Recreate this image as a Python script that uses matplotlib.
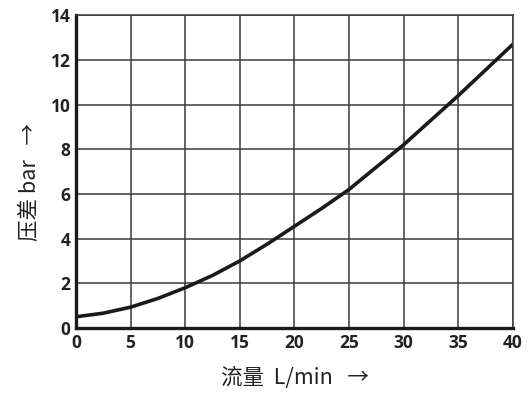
import numpy as np
import matplotlib.pyplot as plt

plt.rcParams['font.family'] = ['Noto Sans CJK SC', 'DejaVu Sans']

# flow (L/min) vs pressure drop (bar)
flow = [0, 2.5, 5, 7.5, 10, 12.5, 15, 17.5, 20, 22.5, 25, 27.5, 30, 32.5, 35, 37.5, 40]
dp = [0.5, 0.66, 0.93, 1.32, 1.8, 2.35, 3.0, 3.75, 4.55, 5.35, 6.2, 7.2, 8.2, 9.3, 10.4, 11.55, 12.7]

xticks = [0, 5, 10, 15, 20, 25, 30, 35, 40]
yticks = [0, 2, 4, 6, 8, 10, 12, 14]

fig = plt.figure(figsize=(5.31, 3.98), dpi=100)
ax = fig.add_axes([0.143, 0.176, 0.823, 0.786])

ax.plot(flow, dp, color="#1a1a1a", linewidth=2.6, solid_capstyle="butt",
        solid_joinstyle="round")

ax.set_xlim(0, 40)
ax.set_ylim(0, 14)
ax.set_xticks(xticks)
ax.set_yticks(yticks)
ax.grid(True, color="#3a3a3a", linewidth=1.1)
ax.set_axisbelow(True)

for side in ["top", "right"]:
    ax.spines[side].set_color("#3a3a3a")
    ax.spines[side].set_linewidth(1.1)
for side in ["left", "bottom"]:
    ax.spines[side].set_color("#1a1a1a")
    ax.spines[side].set_linewidth(2.4)

ax.tick_params(length=0, pad=4)
for lab in ax.get_xticklabels() + ax.get_yticklabels():
    lab.set_family(["Open Sans", "DejaVu Sans"])
    lab.set_fontweight("bold")
    lab.set_fontsize(12.5)
    lab.set_color("#222222")

ax.set_xlabel("流量  L/min   →", fontsize=15.5, color="#222222")
ax.set_ylabel("压差 bar   →", fontsize=15.5, color="#222222")
ax.xaxis.set_label_coords(0.5, -0.125)
ax.yaxis.set_label_coords(-0.08, 0.465)

fig.savefig("out.png", dpi=100)
